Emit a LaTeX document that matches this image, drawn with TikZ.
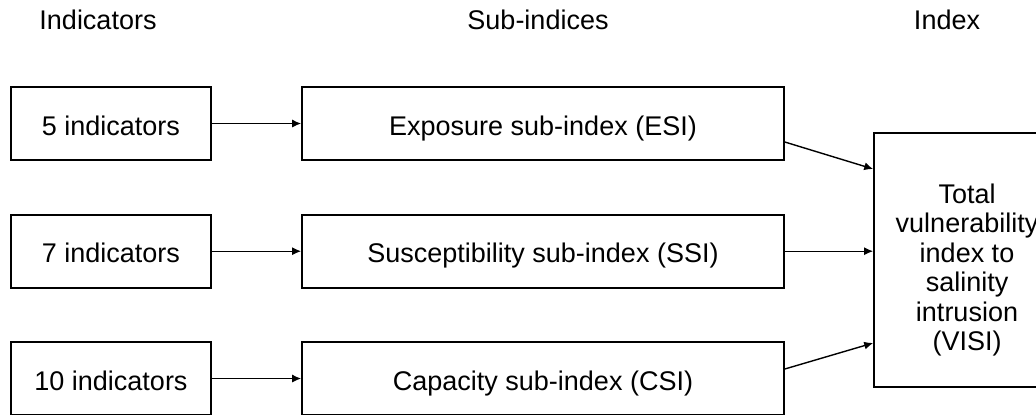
\documentclass[tikz,border=0pt]{standalone}
\usepackage{fontspec}
\setmainfont{Liberation Sans}
\usetikzlibrary{arrows.meta,calc}
\begin{document}
\begin{tikzpicture}[x=0.5pt,y=-0.5pt,
  txt/.style={font=\fontsize{13.5}{14.75}\selectfont},
  box/.style={txt,draw,line width=0.8pt,rectangle,inner sep=0pt,minimum height=36.5pt,text height=11.5pt,text depth=0pt},
  indbox/.style={box,minimum width=100pt},
  subbox/.style={box,minimum width=241pt},
  idxbox/.style={draw,line width=0.8pt,rectangle,inner sep=0pt,minimum width=93pt,minimum height=127pt},
  hdr/.style={txt,anchor=base,inner sep=0pt},
  arr/.style={line width=0.7pt,-{Latex[length=4.5pt,width=4pt]}},
]
\useasboundingbox (0,0) rectangle (1036,414);
\clip (0,0) rectangle (1036,414);
\fill[white] (0,0) rectangle (1036,414);

% headers
\node[hdr] (h1) at (98,29) {Indicators};
\node[hdr] (h2) at (538,29) {Sub-indices};
\node[hdr] (h3) at (947,29) {Index};

% indicator boxes
\node[indbox] (i1) at (111,123.5) {5 indicators};
\node[indbox] (i2) at (111,251.2) {7 indicators};
\node[indbox] (i3) at (111,378.5) {10 indicators};

% sub-index boxes
\node[subbox] (s1) at (543,123.5) {Exposure sub-index (ESI)};
\node[subbox] (s2) at (543,251.2) {Susceptibility sub-index (SSI)};
\node[subbox] (s3) at (543,378.5) {Capacity sub-index (CSI)};

% index box
\node[idxbox] (T) at (967,260) {};
\node[txt,align=center,inner sep=0pt] (Tl) at (967,270) {Total\\vulnerability\\index to\\salinity\\intrusion\\(VISI)};

% connectors
\draw[arr] (i1.east) -- (s1.west);
\draw[arr] (i2.east) -- (s2.west);
\draw[arr] (i3.east) -- (s3.west);
\draw[arr] ($(s1.east)+(0,18.5)$) -- ($(T.west)+(0,-91)$);
\draw[arr] (s2.east) -- (s2.east -| T.west);
\draw[arr] ($(s3.east)+(0,-9.5)$) -- ($(T.west)+(0,83)$);
\end{tikzpicture}
\end{document}
